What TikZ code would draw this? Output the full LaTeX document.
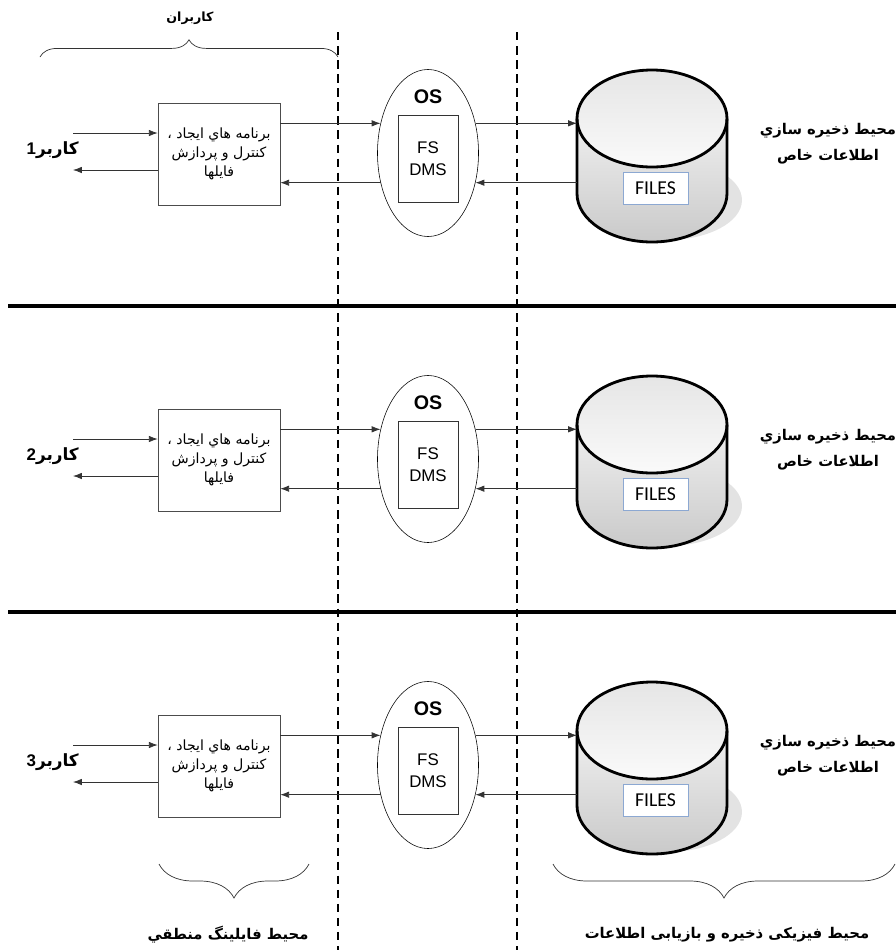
\documentclass[tikz,border=0pt]{standalone}
\usepackage{fontspec}
\setmainfont{Liberation Sans}
\newfontfamily\farsi[Script=Arabic]{DejaVu Sans}
\newfontfamily\calib{Carlito}
\TeXXeTstate=1
\usetikzlibrary{shapes.geometric,decorations.pathreplacing,arrows.meta}
\definecolor{fileedge}{RGB}{140,168,210}
\newcommand{\fa}[1]{{\farsi\beginR #1\endR}}

\tikzset{
  progbox/.style={draw=black!70, fill=white, minimum width=3.05cm, minimum height=2.55cm,
    align=center, inner sep=1pt, font=\fontsize{10}{13.4}\selectfont},
  osell/.style={draw, ellipse, minimum width=2.525cm, minimum height=4.175cm, inner sep=0pt},
  fsbox/.style={draw=black!80, minimum width=1.5cm, minimum height=2.175cm,
    align=center, font=\fontsize{12}{15.5}\selectfont},
  filebox/.style={draw=fileedge, fill=white, minimum width=1.625cm, minimum height=0.8cm,
    font=\calib\fontsize{14}{16}\selectfont},
  flow/.style={-{Latex[length=2.2mm,width=1.6mm]}, black!80, line width=0.5pt},
  sep/.style={line width=1.9pt, dash pattern=on 6pt off 4pt},
  heavy/.style={line width=3pt},
  curly/.style={decorate, decoration={brace, amplitude=#1}, black!80, line width=0.5pt},
  lbl/.style={font=\farsi\bfseries\fontsize{10.5}{18.5}\selectfont, align=center},
}

\begin{document}
\begin{tikzpicture}[x=0.025cm, y=-0.025cm]
  \useasboundingbox (0,0) rectangle (896,950);
  \draw[sep] (338,32) -- (338,950);
  \draw[sep] (517,32) -- (517,950);
  \draw[heavy] (8,306) -- (896,306);
  \draw[heavy] (8,612) -- (896,612);
  \draw[curly=0.43cm] (40,57) -- (338,57);
  \node[font=\farsi\bfseries\fontsize{9}{11}\selectfont] (users) at (190,18) {\fa{کاربران}};
  \foreach \i in {1,2,3}{
    \begin{scope}[shift={(0,{(\i-1)*306})}]
      \node[progbox] (prog\i) at (219,154) {\fa{برنامه هاي ايجاد ،}\\\fa{کنترل و پردازش}\\\fa{فايلها}};
      \node[osell] (os\i) at (428,153) {};
      \node[font=\bfseries\fontsize{14}{16}\selectfont] (ostitle\i) at (428,97) {OS};
      \node[fsbox] (fs\i) at (428,158.5) {FS\\DMS};
      \fill[gray!22] (667,200) ellipse[x radius=75, y radius=40];
      \path[top color=gray!12, bottom color=gray!42] (577,118.5) -- (577,193.5)
        arc[start angle=180, end angle=0, x radius=75, y radius=48.5] -- (727,118.5) -- cycle;
      \path[top color=gray!20, bottom color=gray!4] (652,118.5) ellipse[x radius=75, y radius=48.5];
      \draw[line width=2pt] (652,118.5) ellipse[x radius=75, y radius=48.5];
      \draw[line width=2pt] (577,118.5) -- (577,193.5)
        arc[start angle=180, end angle=0, x radius=75, y radius=48.5] -- (727,118.5);
      \coordinate (db\i) at (577,153);
      \node[filebox] (files\i) at (655.5,188) {FILES};
      \node[lbl] (store\i) at (828,144) {\fa{محیط ذخیره سازي}\\\fa{اطلاعات خاص}};
      \node[font=\bfseries\fontsize{12}{14}\selectfont, anchor=east, inner sep=0pt] (user\i) at (79,150) {\i{\farsi کاربر}};
      \coordinate (uin\i) at (73,133);
      \coordinate (uout\i) at (73,170);
      \draw[flow] (uin\i) -- (uin\i -| prog\i.west);
      \draw[flow] (prog\i.west |- uout\i) -- (uout\i);
      \draw[flow] (prog\i.east |- os\i.148) -- (os\i.148);
      \draw[flow] (os\i.212) -- (prog\i.east |- os\i.212);
      \draw[flow] (os\i.32) -- (db\i |- os\i.32);
      \draw[flow] (db\i |- os\i.328) -- (os\i.328);
    \end{scope}
  }
  \draw[curly=0.85cm] (309,864) -- (159,864);
  \draw[curly=0.85cm] (895,864) -- (553,864);
  \node[lbl] (logic) at (228,935) {\fa{محیط فایلینگ منطقي}};
  \node[lbl] (phys) at (727,935) {\fa{محیط فیزیکی ذخیره و بازیابی اطلاعات}};
\end{tikzpicture}
\end{document}
